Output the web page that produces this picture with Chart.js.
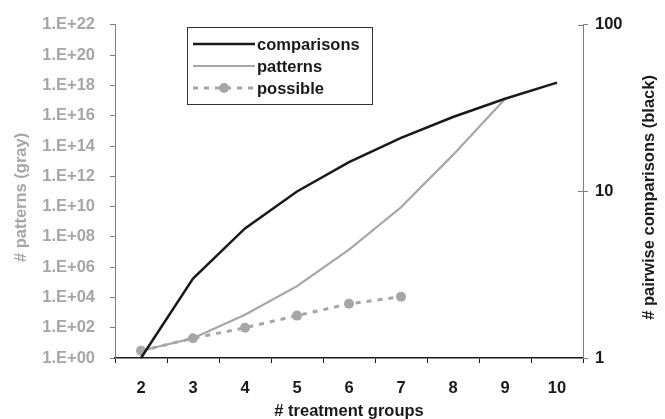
<!DOCTYPE html>
<html>
<head>
<meta charset="utf-8">
<script src="https://cdn.jsdelivr.net/npm/chart.js@4/dist/chart.umd.min.js"></script>
<style>
  html, body { margin: 0; padding: 0; background: #fff; }
  #wrap { width: 665px; height: 419px; }
</style>
</head>
<body>
<div id="wrap"><canvas id="c" width="665" height="419"></canvas></div>
<script>
// ---- data ----
const groups = ['2', '3', '4', '5', '6', '7', '8', '9', '10'];
const comparisons = [1, 3, 6, 10, 15, 21, 28, 36, 45];
const patterns = [3, 20, 730, 5.6e4, 1.45e7, 9e9, 2.6e13, 1.3e17, null];
const possible = [3, 20, 100, 630, 3800, 11000, null, null, null];
const leftTicks = [1e0, 1e2, 1e4, 1e6, 1e8, 1e10, 1e12, 1e14, 1e16, 1e18, 1e20, 1e22];
const rightTicks = [1, 10, 100];
const seriesLabels = ['comparisons', 'patterns', 'possible'];
const titles = { x: '# treatment groups', left: '# patterns (gray)', right: '# pairwise comparisons (black)' };

const GRAY = '#a6a6a6';
const BLACK = '#1a1a1a';
const FONT = 'bold 16.5px "Liberation Sans", Arial, sans-serif';

function sciLabel(v) {
  const e = Math.round(Math.log10(v));
  return '1.E+' + (e < 10 ? '0' + e : '' + e);
}

const decorPlugin = {
  id: 'decor',
  afterDraw(chart) {
    const ctx = chart.ctx;
    const ca = chart.chartArea;
    const yR = chart.scales.yR;
    ctx.save();
    // inner part of right axis ticks (cross ticks)
    ctx.strokeStyle = '#808080';
    ctx.lineWidth = 1;
    rightTicks.forEach(t => {
      const y = Math.round(yR.getPixelForValue(t)) + 0.5;
      ctx.beginPath();
      ctx.moveTo(ca.right - 5, y);
      ctx.lineTo(ca.right, y);
      ctx.stroke();
    });
    // axis titles
    ctx.font = FONT;
    ctx.textAlign = 'center';
    ctx.textBaseline = 'middle';
    ctx.fillStyle = BLACK;
    ctx.fillText(titles.x, (ca.left + ca.right) / 2, 411);
    ctx.save();
    ctx.translate(21, (ca.top + ca.bottom) / 2 + 6);
    ctx.rotate(-Math.PI / 2);
    ctx.fillStyle = GRAY;
    ctx.fillText(titles.left, 0, 0);
    ctx.restore();
    ctx.save();
    ctx.translate(649, (ca.top + ca.bottom) / 2 + 6);
    ctx.rotate(-Math.PI / 2);
    ctx.fillStyle = BLACK;
    ctx.fillText(titles.right, 0, 0);
    ctx.restore();
    // legend
    const bx = 187.5, by = 27.5, bw = 185, bh = 77;
    ctx.fillStyle = '#fff';
    ctx.fillRect(bx, by, bw, bh);
    ctx.strokeStyle = '#333';
    ctx.lineWidth = 1;
    ctx.strokeRect(bx, by, bw, bh);
    const rows = [44, 66, 88];
    chart.data.datasets.forEach((ds, i) => {
      const y = rows[i];
      ctx.strokeStyle = ds.borderColor;
      ctx.lineWidth = ds.borderWidth;
      ctx.setLineDash(ds.borderDash || []);
      ctx.beginPath();
      ctx.moveTo(193, y);
      ctx.lineTo(255, y);
      ctx.stroke();
      ctx.setLineDash([]);
      if (ds.pointRadius) {
        ctx.fillStyle = ds.pointBackgroundColor;
        ctx.beginPath();
        ctx.arc(224, y, ds.pointRadius, 0, Math.PI * 2);
        ctx.fill();
      }
      ctx.fillStyle = BLACK;
      ctx.textAlign = 'left';
      ctx.fillText(ds.label, 257, y + 1);
    });
    ctx.restore();
  }
};

new Chart(document.getElementById('c'), {
  type: 'line',
  data: {
    labels: groups,
    datasets: [
      {
        label: seriesLabels[2], data: possible, yAxisID: 'yL',
        borderColor: GRAY, borderWidth: 3, borderDash: [5, 6],
        pointRadius: 5, pointBackgroundColor: GRAY, pointBorderWidth: 0,
        tension: 0, spanGaps: false, order: 3
      },
      {
        label: seriesLabels[1], data: patterns, yAxisID: 'yL',
        borderColor: GRAY, borderWidth: 2.2, pointRadius: 0, tension: 0, order: 2
      },
      {
        label: seriesLabels[0], data: comparisons, yAxisID: 'yR',
        borderColor: BLACK, borderWidth: 2.5, pointRadius: 0, tension: 0, order: 1
      }
    ].sort((a, b) => seriesLabels.indexOf(a.label) - seriesLabels.indexOf(b.label))
  },
  options: {
    responsive: false,
    animation: false,
    clip: false,
    layout: { padding: { top: 20, left: 0, right: 0, bottom: 0 } },
    plugins: { legend: { display: false }, tooltip: { enabled: false } },
    scales: {
      x: {
        type: 'category',
        offset: true,
        grid: { offset: true, drawOnChartArea: false, drawTicks: true, tickLength: 5, color: BLACK, lineWidth: 1 },
        border: { color: BLACK, width: 1.5 },
        ticks: { color: BLACK, font: { family: '"Liberation Sans", Arial, sans-serif', size: 16.5, weight: 'bold' }, padding: 16, maxRotation: 0 },
        afterFit(s) { s.height = 61; }
      },
      yL: {
        type: 'logarithmic', position: 'left', min: 1, max: 1e22,
        grid: { drawOnChartArea: false, drawTicks: true, tickLength: 5, color: '#808080' },
        border: { color: '#808080', width: 1 },
        afterBuildTicks(s) { s.ticks = leftTicks.map(v => ({ value: v })); },
        ticks: {
          color: GRAY, padding: 15,
          font: { family: '"Liberation Sans", Arial, sans-serif', size: 16.5, weight: 'bold' },
          callback: v => sciLabel(v)
        },
        afterFit(s) { s.width = 115; }
      },
      yR: {
        type: 'logarithmic', position: 'right', min: 1, max: 100,
        grid: { drawOnChartArea: false, drawTicks: true, tickLength: 5, color: '#808080' },
        border: { color: '#808080', width: 1 },
        afterBuildTicks(s) { s.ticks = rightTicks.map(v => ({ value: v })); },
        ticks: {
          color: BLACK, padding: 7,
          font: { family: '"Liberation Sans", Arial, sans-serif', size: 16.5, weight: 'bold' },
          callback: v => String(v)
        },
        afterFit(s) { s.width = 82; }
      }
    }
  },
  plugins: [decorPlugin]
});
</script>
</body>
</html>
